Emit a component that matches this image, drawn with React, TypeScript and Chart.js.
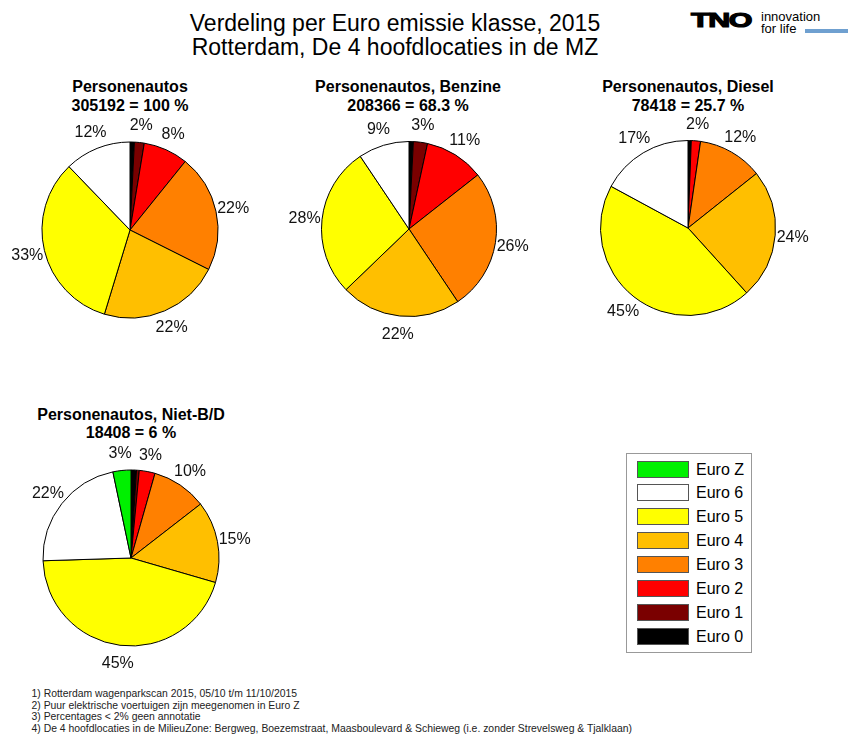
import React, { useEffect, useRef } from "react";
import Chart from "chart.js/auto";

const categories = ["Euro 0", "Euro 1", "Euro 2", "Euro 3", "Euro 4", "Euro 5", "Euro 6", "Euro Z"];
const colors = ["#000000", "#7a0000", "#ff0000", "#ff8000", "#ffbf00", "#ffff00", "#ffffff", "#00f000"];

const allCars = [0.8, 1.8, 8.2, 21.6, 22.3, 33.1, 12.2, 0];
const petrolCars = [0.8, 2.6, 11.0, 26.2, 22.2, 27.8, 9.4, 0];
const dieselCars = [0.5, 0.1, 1.7, 12.0, 24.0, 44.6, 17.1, 0];
const otherCars = [1.0, 0.5, 2.9, 10.1, 15.0, 45.0, 22.2, 3.3];

const pieTitles = ["Personenautos", "Personenautos, Benzine", "Personenautos, Diesel", "Personenautos, Niet-B/D"];
const pieTotals = ["305192 = 100 %", "208366 = 68.3 %", "78418 = 25.7 %", "18408 = 6 %"];

const footnotes = [
  "1) Rotterdam wagenparkscan 2015, 05/10 t/m 11/10/2015",
  "2) Puur elektrische voertuigen zijn meegenomen in Euro Z",
  "3) Percentages < 2% geen annotatie",
  "4) De 4 hoofdlocaties in de MilieuZone: Bergweg, Boezemstraat, Maasboulevard & Schieweg (i.e. zonder Strevelsweg & Tjalklaan)",
];

const FONT = "'Liberation Sans', Arial, Helvetica, sans-serif";

const labelPlugin = {
  id: "pctLabels",
  afterDatasetsDraw(chart: any) {
    const ctx = chart.ctx;
    const meta = chart.getDatasetMeta(0);
    const data = chart.data.datasets[0].data as number[];
    const total = data.reduce((a: number, b: number) => a + b, 0);
    ctx.save();
    ctx.font = `16px ${FONT}`;
    ctx.fillStyle = "#111";
    ctx.textAlign = "center";
    ctx.textBaseline = "middle";
    meta.data.forEach((arc: any, i: number) => {
      const pct = Math.round((data[i] / total) * 100);
      if (pct < 2) return;
      const p = arc.getProps(["x", "y", "startAngle", "endAngle", "outerRadius"], true);
      const mid = (p.startAngle + p.endAngle) / 2;
      const R = p.outerRadius * 1.2;
      ctx.fillText(pct + "%", p.x + Math.cos(mid) * R, p.y + Math.sin(mid) * R + 1);
    });
    ctx.restore();
  },
};

function Pie({ values, left, top, pad }: { values: number[]; left: number; top: number; pad: number }) {
  const ref = useRef<HTMLCanvasElement | null>(null);
  useEffect(() => {
    if (!ref.current) return;
    const chart = new Chart(ref.current, {
      type: "pie",
      data: {
        labels: categories,
        datasets: [
          {
            data: values,
            backgroundColor: colors,
            borderColor: "#000000",
            borderWidth: 1,
            hoverOffset: 0,
            hoverBorderWidth: 1,
          },
        ],
      },
      options: {
        responsive: false,
        animation: false,
        devicePixelRatio: 1,
        layout: { padding: pad },
        plugins: { legend: { display: false }, tooltip: { enabled: false }, title: { display: false } },
        events: [],
      },
      plugins: [labelPlugin],
    });
    return () => chart.destroy();
  }, []);
  return (
    <canvas
      ref={ref}
      width={260}
      height={260}
      style={{ position: "absolute", left, top, width: 260, height: 260 }}
    />
  );
}

function PieTitle({ cx, top, idx, lh }: { cx: number; top: number; idx: number; lh: number }) {
  return (
    <div
      style={{
        position: "absolute",
        left: cx - 150,
        top,
        width: 300,
        textAlign: "center",
        fontWeight: "bold",
        fontSize: 16,
        lineHeight: lh + "px",
        color: "#000",
        whiteSpace: "nowrap",
      }}
    >
      <div>{pieTitles[idx]}</div>
      <div>{pieTotals[idx]}</div>
    </div>
  );
}

export default function App() {
  const legendItems = categories.map((c, i) => ({ c, col: colors[i] })).reverse();
  return (
    <div
      style={{
        position: "absolute",
        left: 0,
        top: 0,
        width: 848,
        height: 740,
        background: "#fff",
        fontFamily: FONT,
        color: "#000",
        overflow: "hidden",
      }}
    >
      <div
        style={{
          position: "absolute",
          left: 95,
          top: 10.5,
          width: 600,
          textAlign: "center",
          fontSize: 23,
          lineHeight: "24.5px",
          whiteSpace: "nowrap",
        }}
      >
        <div>Verdeling per Euro emissie klasse, 2015</div>
        <div>Rotterdam, De 4 hoofdlocaties in de MZ</div>
      </div>

      {/* TNO logo */}
      <div
        style={{
          position: "absolute",
          left: 691,
          top: 9,
          fontSize: 21,
          lineHeight: "21px",
          fontWeight: 900,
          transform: "scaleX(1.45)",
          transformOrigin: "left top",
          WebkitTextStroke: "1.2px #000",
          letterSpacing: -1,
        }}
      >
        TNO
      </div>
      <div style={{ position: "absolute", left: 761, top: 10, fontSize: 13, lineHeight: "13px" }}>innovation</div>
      <div style={{ position: "absolute", left: 761, top: 22, fontSize: 13, lineHeight: "13px" }}>for life</div>
      <div style={{ position: "absolute", left: 805, top: 28.5, width: 43, height: 4, background: "#6fa0d0" }} />

      <PieTitle cx={130} top={76.7} idx={0} lh={19} />
      <PieTitle cx={408} top={76.7} idx={1} lh={19} />
      <PieTitle cx={688} top={76.7} idx={2} lh={19} />
      <PieTitle cx={131} top={405.7} idx={3} lh={18.5} />

      <Pie values={allCars} left={0} top={100} pad={41.5} />
      <Pie values={petrolCars} left={279} top={99} pad={42} />
      <Pie values={dieselCars} left={558} top={98} pad={42} />
      <Pie values={otherCars} left={1} top={428} pad={41.5} />

      {/* legend */}
      <div
        style={{
          position: "absolute",
          left: 626,
          top: 453,
          width: 124,
          height: 198,
          border: "1px solid #999",
          background: "#fff",
        }}
      />
      {legendItems.map((it, k) => (
        <React.Fragment key={it.c}>
          <div
            style={{
              position: "absolute",
              left: 637,
              top: 460.5 + k * 23.9,
              width: 50,
              height: 15,
              background: it.col,
              border: "1px solid #555",
            }}
          />
          <div
            style={{
              position: "absolute",
              left: 696,
              top: 460.5 + k * 23.9 - 1,
              fontSize: 16,
              lineHeight: "19px",
              whiteSpace: "nowrap",
            }}
          >
            {it.c}
          </div>
        </React.Fragment>
      ))}

      {/* footnotes */}
      <div
        style={{
          position: "absolute",
          left: 31.5,
          top: 688,
          fontSize: 10.4,
          lineHeight: "11.5px",
          whiteSpace: "nowrap",
          color: "#222",
        }}
      >
        {footnotes.map((f) => (
          <div key={f}>{f}</div>
        ))}
      </div>
    </div>
  );
}
